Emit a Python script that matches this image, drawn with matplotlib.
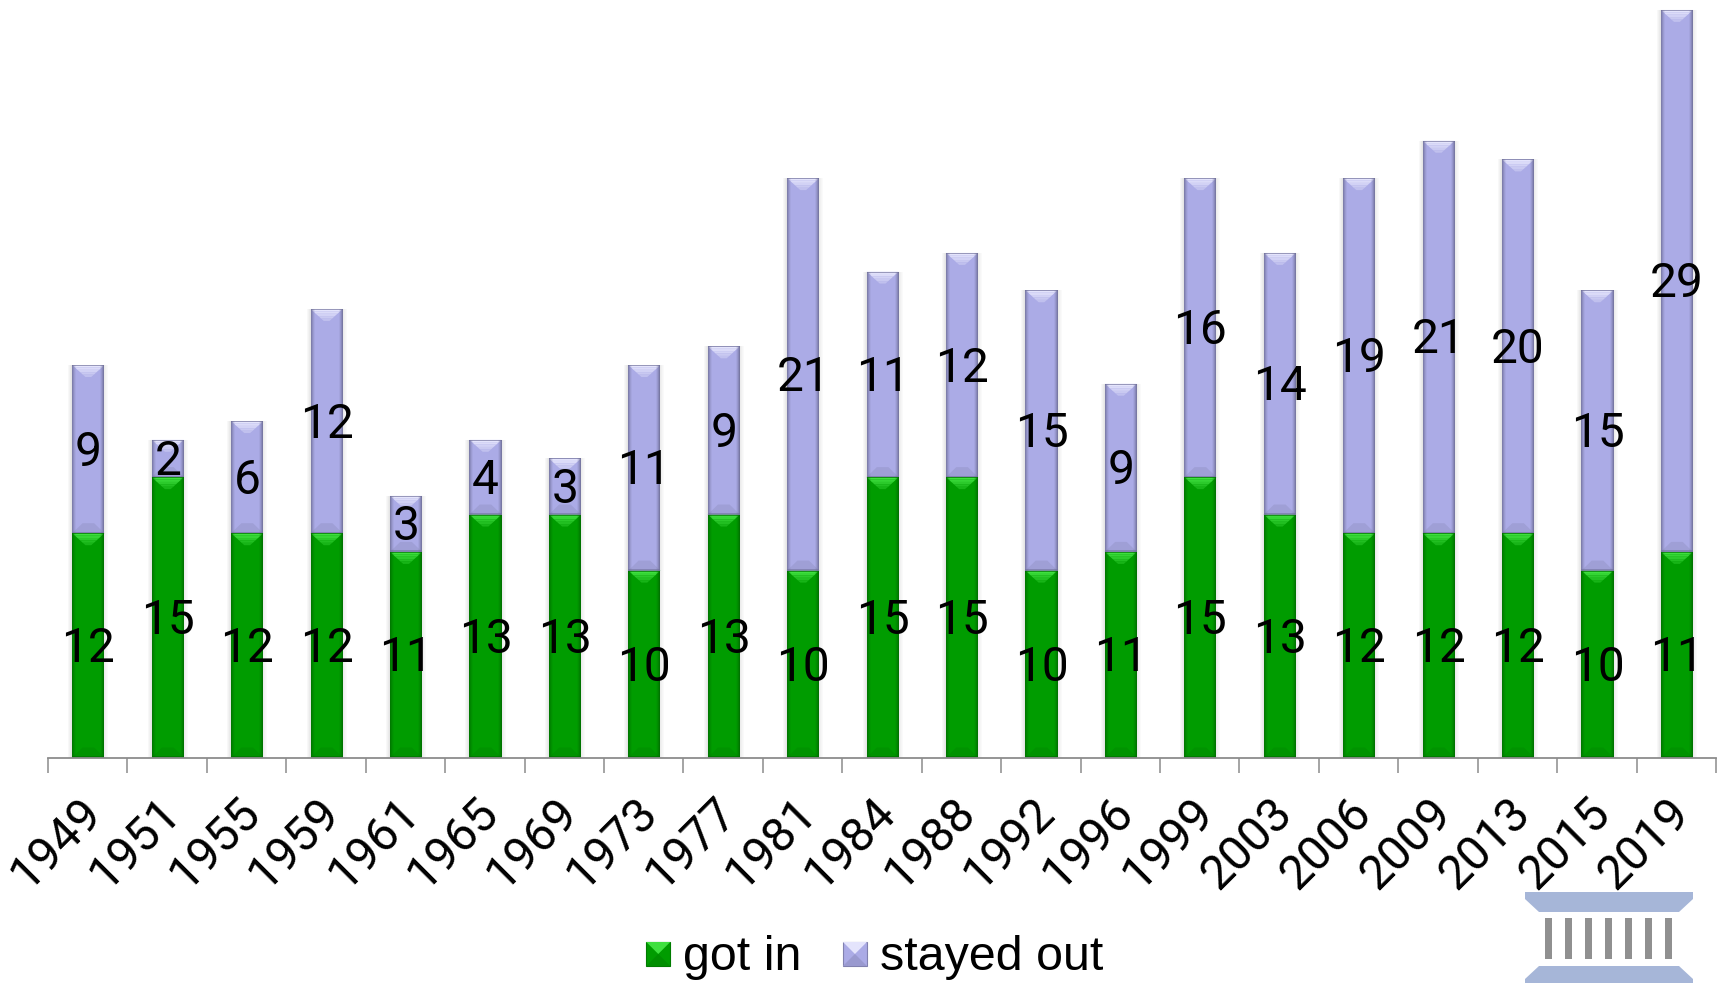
import matplotlib
matplotlib.use("Agg")
import matplotlib.pyplot as plt
import numpy as np
from matplotlib.patches import Polygon, Rectangle
from matplotlib.legend_handler import HandlerBase
from matplotlib.colors import to_rgb
from matplotlib.transforms import ScaledTranslation

plt.rcParams['font.family'] = ['Liberation Sans', 'DejaVu Sans']
DIGITS = ['Roboto', 'Liberation Sans']

years = ['1949','1951','1955','1959','1961','1965','1969','1973','1977','1981','1984',
         '1988','1992','1996','1999','2003','2006','2009','2013','2015','2019']
got_in = [12,15,12,12,11,13,13,10,13,10,15,15,10,11,15,13,12,12,12,10,11]
stayed_out = [9,2,6,12,3,4,3,11,9,21,11,12,15,9,16,14,19,21,20,15,29]

W, H = 1723, 983
BAR_W = 0.405
GREEN = '#009C00'
GREEN_LIGHT = '#3FE03F'
GREEN_DARK = '#006E00'
PURPLE = '#ABABE6'
PURPLE_LIGHT = '#E4E4FC'
PURPLE_DARK = '#6F6F98'

BASE_PX = 757.5
UNIT_PX = 18.69
YMAX = BASE_PX / UNIT_PX

fig = plt.figure(figsize=(W/100, H/100), dpi=100)
ax = fig.add_axes([48/W, 1-BASE_PX/H, (1716-48)/W, BASE_PX/H])
x = np.arange(len(years)) + 0.008
ax.set_xlim(-0.5, len(years)-0.5)
ax.set_ylim(0, YMAX)
ax.patch.set_alpha(0)

px = len(years) / (1716-48)
py = 1 / UNIT_PX


def mix(a, b, t):
    return tuple(np.array(to_rgb(a)) * (1 - t) + np.array(to_rgb(b)) * t)


def bevel(a, x0, y0, w, h, base, light, dark, sx, sy, z=3):
    """Overlay a soft bevel on one bar segment; sx, sy convert pixels to data."""
    for i in range(4):
        al = 0.16 * (1 - i / 4)
        a.add_patch(Rectangle((x0 - (i + 1) * sx, y0), sx, h, fc='#606060', alpha=al, ec='none', zorder=1))
        a.add_patch(Rectangle((x0 + w + i * sx, y0), sx, h, fc='#606060', alpha=al * 0.7, ec='none', zorder=1))
    cx = x0 + w / 2
    top = y0 + h
    foot = min(10 * sy, h * 0.4)
    a.add_patch(Polygon([(x0, y0), (x0 + w, y0), (cx + 0.18 * w, y0 + foot), (cx - 0.18 * w, y0 + foot)],
                        fc=mix(base, dark, 0.2), ec='none', zorder=z))
    depth = min(12 * sy, h * 0.5)
    n = 5
    for i in range(n):
        f0 = i / n
        f1 = (i + 1) / n
        hw0 = (w / 2) * (1 - 0.82 * f0)
        hw1 = (w / 2) * (1 - 0.82 * f1)
        c = mix(light, base, f0 * 0.8)
        a.add_patch(Polygon([(cx - hw0, top - depth * f0), (cx + hw0, top - depth * f0),
                             (cx + hw1, top - depth * f1), (cx - hw1, top - depth * f1)],
                            fc=c, ec='none', zorder=z + 1))
    edge = 4 * sx
    m = 4
    for i in range(m):
        t = (1 - i / m) ** 1.5
        d = edge * i / m
        wd = edge / m
        a.add_patch(Rectangle((x0 + d, y0), wd, h, fc=dark, alpha=t * 0.75, ec='none', zorder=z + 2))
        a.add_patch(Rectangle((x0 + w - d - wd, y0), wd, h, fc=dark, alpha=t * 0.85, ec='none', zorder=z + 2))
    a.add_patch(Rectangle((x0, top - 1.0 * sy), w, 1.0 * sy, fc=dark, alpha=0.65, ec='none', zorder=z + 3))
    a.add_patch(Rectangle((x0, y0), w, 1.5 * sy, fc=dark, alpha=0.55, ec='none', zorder=z + 3))


bars_g = ax.bar(x, got_in, BAR_W, color=GREEN, zorder=2)
bars_p = ax.bar(x, stayed_out, BAR_W, bottom=got_in, color=PURPLE, zorder=2)
for b in bars_g:
    bevel(ax, b.get_x(), b.get_y(), b.get_width(), b.get_height(), GREEN, GREEN_LIGHT, GREEN_DARK, px, py)
for b in bars_p:
    bevel(ax, b.get_x(), b.get_y(), b.get_width(), b.get_height(), PURPLE, PURPLE_LIGHT, PURPLE_DARK, px, py)

for xi, g, s in zip(x, got_in, stayed_out):
    ax.text(xi, g/2 - 3.5*py, str(g), ha='center', va='center', fontsize=34.5, color='black', zorder=8, family=DIGITS)
    ax.text(xi, g + s/2 - 3.5*py, str(s), ha='center', va='center', fontsize=34.5, color='black', zorder=8, family=DIGITS)

for sp in ('top', 'left', 'right'):
    ax.spines[sp].set_visible(False)
ax.spines['bottom'].set_color('#8C8C8C')
ax.spines['bottom'].set_linewidth(1.3)
ax.spines['bottom'].set_zorder(10)
ax.set_yticks([])
ax.set_xticks(np.arange(len(years)))
ax.set_xticklabels(years, rotation=45, ha='right', va='top', rotation_mode='anchor', fontsize=34.5, family=DIGITS)
ax.tick_params(axis='x', which='major', length=0, pad=23)
offset = ScaledTranslation(-10/100, 0, fig.dpi_scale_trans)
for lab in ax.get_xticklabels():
    lab.set_transform(lab.get_transform() + offset)
ax.set_xticks(np.arange(len(years)+1) - 0.5, minor=True)
ax.tick_params(axis='x', which='minor', length=10.8, width=1.1, color='#8C8C8C')


class BevelHandler(HandlerBase):
    def __init__(self, base, light, dark):
        super().__init__()
        self.c = (base, light, dark)

    def create_artists(self, legend, orig, xd, yd, width, height, fontsize, trans):
        base, light, dark = self.c
        s = 24 * 0.72
        x0, y0 = -xd + (width - s), -yd + (height - s) / 2 - 1
        return [Rectangle((x0, y0), s, s, fc=base, ec=mix(base, dark, 0.7), lw=0.8, transform=trans),
                Polygon([(x0, y0), (x0 + s, y0), (x0 + s / 2, y0 + s / 2)], fc=mix(base, dark, 0.3), ec='none', transform=trans),
                Polygon([(x0, y0 + s), (x0 + s, y0 + s), (x0 + s / 2, y0 + s / 2)], fc=light, ec='none', transform=trans)]


fig.legend([bars_g, bars_p], ['got in', 'stayed out'],
           handler_map={bars_g: BevelHandler(GREEN, GREEN_LIGHT, GREEN_DARK),
                        bars_p: BevelHandler(PURPLE, PURPLE_LIGHT, PURPLE_DARK)},
           loc='center', bbox_to_anchor=(874/W, 1-957/H), ncol=2, frameon=False, fontsize=34.8,
           handlelength=0.52, handletextpad=0.26, columnspacing=0.84, borderpad=0, borderaxespad=0)


def fp(xp, yp):
    return (xp / W, 1 - yp / H)


SLAB = '#A6B6D8'
COL = '#909090'
fig.add_artist(Polygon([fp(1525, 892), fp(1693, 892), fp(1693, 899), fp(1679, 912), fp(1539, 912), fp(1525, 899)],
                       transform=fig.transFigure, fc=SLAB, ec='none', zorder=5))
fig.add_artist(Polygon([fp(1539, 966), fp(1679, 966), fp(1693, 979), fp(1693, 983), fp(1525, 983), fp(1525, 979)],
                       transform=fig.transFigure, fc=SLAB, ec='none', zorder=5))
for i in range(7):
    x0 = 1545 + i * 20.05
    fig.add_artist(Rectangle((x0 / W, 1 - 959 / H), 7 / W, 41 / H, transform=fig.transFigure, fc=COL, ec='none', zorder=5))

fig.savefig('out.png', dpi=100)
